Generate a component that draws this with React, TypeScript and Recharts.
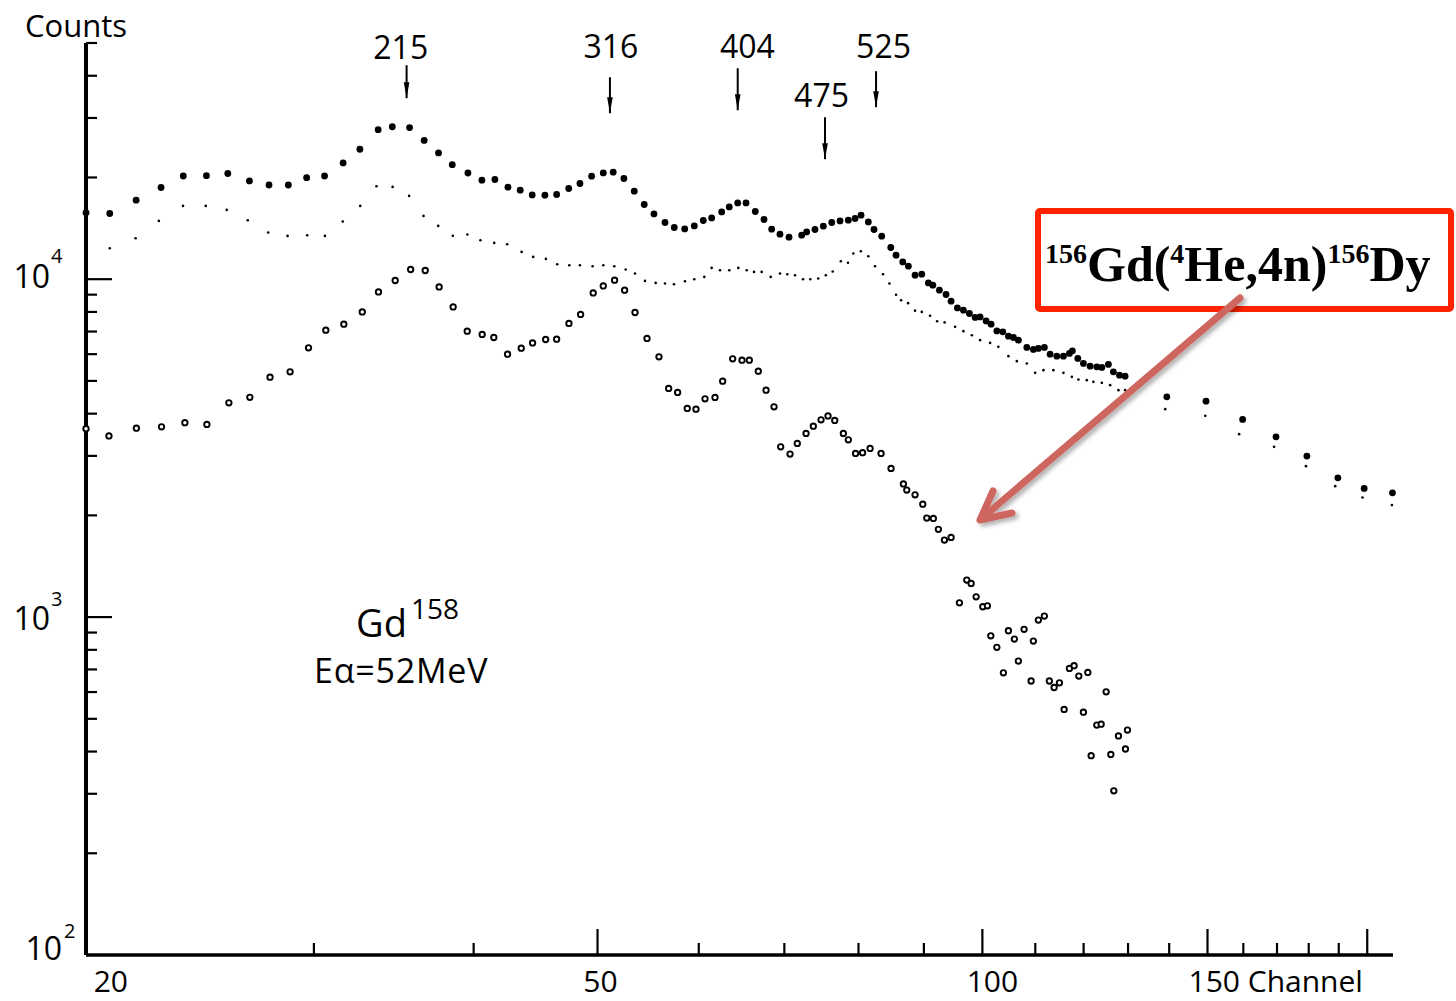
import React from 'react';
import { ScatterChart, Scatter, XAxis, YAxis, ReferenceLine, ReferenceDot } from 'recharts';

// ---------- data (channel, counts) ----------
const upperChannels = [
  19.9, 20.77, 21.78, 22.78, 23.71, 24.72, 25.69, 26.71, 27.67, 28.65,
  29.61, 30.58, 31.62, 32.59, 33.68, 34.55, 35.64, 36.59, 37.55, 38.49,
  39.59, 40.6, 41.56, 42.55, 43.5, 44.45, 45.48, 46.45, 47.47, 48.44,
  49.47, 50.52, 51.43, 52.43, 53.42, 54.39, 55.35, 56.46, 57.41, 58.5,
  59.52, 60.49, 61.41, 62.53, 63.39, 64.36, 65.33, 66.43, 67.48, 68.42,
  69.45, 70.59, 72.22, 72.87, 73.97, 75.09, 76.24, 77.38, 78.55, 79.51,
  80.37, 81.43, 82.27,
  83.42, 84.79, 85.6, 86.64, 87.52, 88.58, 89.66, 90.73, 91.46, 92.55,
  93.67, 94.52, 95.6, 96.64, 97.69, 98.7, 99.59, 100.67, 101.58, 102.64,
  103.75, 104.8, 105.75, 106.7, 108.33, 109.62, 110.61, 111.81, 112.97, 114.35,
  115.72, 116.97, 117.6, 118.75, 119.96, 121.42, 122.88, 124.0, 125.48, 126.61,
  128.0, 129.31,
  139.4, 149.6, 159.8, 169.7, 179.4, 189.7, 198.9, 209.3,
];
const upperCounts = [
  15731, 15646, 17129, 18677, 20199, 20240, 20546, 19535, 18996, 18996,
  19966, 20199, 22085, 24244, 27691, 28261, 28107, 25743, 23641, 21815,
  20616, 19631, 19725, 18716, 18338, 17760, 17723, 17808, 18550, 19194,
  20170, 20630, 20728, 19858, 18213, 16635, 15603, 14715, 14222, 14087,
  14378, 14917, 15183, 15817, 16364, 16817, 16817, 15860, 15018, 14058,
  13588, 13312, 13496, 13802, 14030, 14349, 14715, 14877, 14947, 15121,
  15465, 14776, 14030,
  13403, 12411, 11776, 11251, 10926, 10276, 10347, 9751, 9600, 9278,
  9010, 8608, 8224, 8096, 7916, 7704, 7735, 7527, 7359, 7031,
  6984, 6782, 6722, 6600, 6280, 6195, 6237, 6280, 6000, 5918,
  5918, 6028, 6136, 5826, 5631, 5529, 5502, 5480, 5593, 5318,
  5200, 5165,
  4485, 4355, 3846, 3415, 2995, 2584, 2403, 2332,
];

const middleChannels = [
  19.9, 20.77, 21.76, 22.69, 23.7, 24.69, 25.64, 26.63, 27.63, 28.61,
  29.64, 30.6, 31.6, 32.61, 33.58, 34.57, 35.61, 36.55, 37.53, 38.53,
  39.55, 40.49, 41.51, 42.49, 43.61, 44.53, 45.56, 46.5, 47.52, 48.44,
  49.56, 50.52, 51.53, 52.6, 53.49, 54.46, 55.52, 56.46, 57.38, 58.53,
  59.52, 60.6, 61.41, 62.34, 63.39, 64.43, 65.41, 66.28, 67.2, 68.3,
  69.45, 70.37, 71.36, 72.4, 73.35, 74.41, 75.43, 76.37, 77.5, 78.5,
  79.26, 80.34, 81.43, 82.42, 83.62, 84.58, 85.6, 86.38, 87.48, 88.58,
  89.66, 91.01, 92.17, 93.42, 95.2, 96.64, 98.11, 99.59, 101.4, 102.92,
  104.8, 106.39, 108.33, 109.97, 111.62, 113.64, 115.72, 117.48, 118.88, 120.69,
  122.13, 124.0, 125.87, 127.77, 129.31,
  139.0, 149.4, 158.8, 169.1, 179.1, 188.8, 198.3, 209.1,
];
const middleCounts = [
  12352, 12352, 13222, 14877, 16477, 16477, 16034, 14947, 13745, 13431,
  13496, 13431, 14816, 16477, 18843, 18753, 17638, 15391, 14378, 13449,
  13560, 13043, 12806, 12692, 12044, 11640, 11483, 11076, 11001, 11001,
  10926, 11001, 10926, 10683, 10396, 9885, 9751, 9711, 9665, 9865,
  10000, 10158, 10800, 10632, 10632, 10800, 10632, 10510, 10510, 10158,
  10396, 10347, 10276, 10000, 10000, 10048, 10276, 10539, 11305, 11190,
  11913, 12101, 11696, 10926, 10347, 9711, 8998, 8667, 8492, 8069,
  8003, 7798, 7511, 7450, 7226, 7017, 6828, 6600, 6479, 6305,
  5918, 5720, 5631, 5282, 5380, 5380, 5282, 5140, 5050, 5026,
  4968, 4934, 4857, 4694, 4694,
  4125, 3941, 3479, 3190, 2797, 2441, 2260, 2145,
];

const lowerChannels = [
  19.9, 20.74, 21.79, 22.8, 23.78, 24.74, 25.74, 26.73, 27.72, 28.74,
  29.71, 30.65, 31.66, 32.73, 33.7, 34.73, 35.71, 36.66, 37.59, 38.55,
  39.54, 40.62, 41.48, 42.52, 43.58, 44.48, 45.54, 46.45, 47.49, 48.5,
  49.61, 50.52, 51.56, 52.5, 53.49, 54.66, 55.85, 56.83, 57.76, 58.77,
  59.7, 60.68, 61.78, 62.64, 63.78, 64.86, 65.72, 66.79, 67.73, 68.71,
  69.54, 70.72, 71.65, 72.79, 73.75, 74.78, 75.73, 76.65, 77.85, 78.55,
  79.58, 80.59, 81.69, 83.32, 84.83, 86.74, 87.27, 88.58, 89.82, 90.47,
  91.55, 92.38, 93.39, 94.52, 95.95, 97.23, 97.99, 98.88, 100.07, 100.91,
  101.53, 102.64, 103.86, 104.8, 105.94, 106.7, 107.8, 109.17, 109.62, 110.61,
  111.81, 112.82, 113.79, 114.89, 115.86, 116.97, 117.96, 118.97, 119.96, 120.91,
  121.64, 122.88, 123.85, 124.97, 126.03, 126.71, 127.77, 129.39, 129.86,
];
const lowerCounts = [
  3612, 3436, 3624, 3656, 3762, 3716, 4305, 4470, 5130, 5318,
  6263, 7065, 7359, 8003, 9171, 9912, 10683, 10611, 9489, 8280,
  7017, 6861, 6722, 6000, 6250, 6479, 6631, 6645, 7395, 7863,
  9109, 9554, 9932, 9278, 7970, 6677, 5890, 4749, 4622, 4144,
  4125, 4424, 4467, 4991, 5810, 5759, 5759, 5343, 4694, 4190,
  3190, 3036, 3265, 3495, 3674, 3835, 3938, 3819, 3495, 3346,
  3050, 3067, 3156, 3050, 2754, 2478, 2376, 2301, 2159, 1963,
  1959, 1818, 1690, 1721, 1102, 1287, 1258, 1148, 1073, 1080,
  880, 814, 684, 911, 861, 741, 920, 647, 849, 980,
  1007, 647, 619, 639, 533, 705, 718, 669, 523, 686,
  389, 479, 482, 601, 392, 306, 445, 407, 463,
];

// peak markers (keV labels) in data units
const peakLabels = ['215', '316', '404', '475', '525'];
const peakChannels = [35.45, 51.13, 64.36, 75.32, 82.57];
const peakArrowTail = [42970, 39590, 42100, 30150, 41250];
const peakArrowTip = [34320, 30980, 31620, 22650, 32280];
const peakLabelChannels = [35.08, 51.22, 65.5, 74.85, 83.69];
const peakLabelCounts = [44760, 45070, 45070, 32280, 45070];

// axes
const xTickValues = [20, 30, 40, 50, 60, 70, 80, 90, 100, 110, 120, 130, 140, 150, 160, 170, 180, 190, 200];
const xMajorTicks = [50, 100, 150, 200];
const xLabelValues = [20, 50, 100, 150];
const xLabelTexts = ['20', '50', '100', '150 Channel'];
const yTickValues = [
  100, 200, 300, 400, 500, 600, 700, 800, 900,
  1000, 2000, 3000, 4000, 5000, 6000, 7000, 8000, 9000,
  10000, 20000, 30000, 40000, 50000,
];
const yLabelValues = [100, 1000, 10000];
const yLabelExponents = ['2', '3', '4'];

const toPoints = (xs: number[], ys: number[]) => xs.map((x, i) => ({ x, y: ys[i] }));
const upperData = toPoints(upperChannels, upperCounts);
const middleData = toPoints(middleChannels, middleCounts);
const lowerData = toPoints(lowerChannels, lowerCounts);

const FONT = "'Open Sans', 'DejaVu Sans', sans-serif";

// label placement offsets (style)
const xLabelStyle: Record<number, { dx: number; anchor: 'middle' | 'start' }> = {
  20: { dx: 22, anchor: 'middle' },
  50: { dx: 3, anchor: 'middle' },
  100: { dx: 10, anchor: 'middle' },
  150: { dx: -19, anchor: 'start' },
};
const yLabelStyle: Record<number, { dx: number; dy: number; sdx: number; sdy: number }> = {
  100: { dx: -24, dy: 5, sdx: -22, sdy: -17 },
  1000: { dx: -36, dy: 13, sdx: -35, sdy: -11 },
  10000: { dx: -36, dy: 9, sdx: -35, sdy: -16 },
};

const XTick = (props: any) => {
  const { x, y, payload } = props;
  const v = payload.value;
  const len = v === 20 ? 0 : xMajorTicks.includes(v) ? 26 : 12;
  const li = xLabelValues.indexOf(v);
  const st = xLabelStyle[v];
  return (
    <g>
      {len > 0 && <line x1={x} x2={x} y1={y} y2={y - len} stroke="#000" strokeWidth={2.2} />}
      {li >= 0 && (
        <text x={x + st.dx} y={y + 37} textAnchor={st.anchor} fontFamily={FONT} fontSize={30} fill="#000">
          {xLabelTexts[li]}
        </text>
      )}
    </g>
  );
};

const YTick = (props: any) => {
  const { x, y, payload } = props;
  const v = payload.value;
  const major = v === 1000 || v === 10000;
  const len = v === 100 ? 0 : major ? 26 : 11;
  const li = yLabelValues.indexOf(v);
  const st = yLabelStyle[v];
  return (
    <g>
      {len > 0 && <line x1={x} x2={x + len} y1={y} y2={y} stroke="#000" strokeWidth={2.2} />}
      {li >= 0 && (
        <g fontFamily={FONT} fill="#000">
          <text x={x + st.dx} y={y + st.dy} textAnchor="end" fontSize={32}>10</text>
          <text x={x + st.sdx} y={y + st.sdy} textAnchor="start" fontSize={20}>{yLabelExponents[li]}</text>
        </g>
      )}
    </g>
  );
};

const FilledDot = (p: any) => <circle cx={p.cx} cy={p.cy} r={3.4} fill="#000" />;
const TinyDot = (p: any) => <circle cx={p.cx} cy={p.cy} r={1.3} fill="#000" />;
const OpenDot = (p: any) => <circle cx={p.cx} cy={p.cy} r={2.7} fill="#fff" stroke="#000" strokeWidth={1.9} />;

const ArrowHead = (p: any) => (
  <polygon points={`${p.cx - 2.8},${p.cy - 16} ${p.cx + 2.8},${p.cy - 16} ${p.cx},${p.cy}`} fill="#000" />
);

export default function App() {
  return (
    <div style={{ position: 'absolute', left: 0, top: 0, width: 1456, height: 1001, background: '#fff' }}>
      <ScatterChart width={1456} height={1001} margin={{ top: 43, right: 63, bottom: 0, left: 0 }}>
        <XAxis
          type="number"
          dataKey="x"
          scale="log"
          domain={[19.9, 209.5]}
          ticks={xTickValues}
          interval={0}
          tickSize={0}
          tickMargin={0}
          tickLine={false}
          tick={(p: any) => <XTick {...p} />}
          axisLine={{ stroke: '#000', strokeWidth: 3.5 }}
          height={46}
        />
        <YAxis
          type="number"
          dataKey="y"
          scale="log"
          domain={[100, 50000]}
          ticks={yTickValues}
          interval={0}
          tickSize={0}
          tickMargin={0}
          tickLine={false}
          tick={(p: any) => <YTick {...p} />}
          axisLine={{ stroke: '#000', strokeWidth: 4 }}
          width={86}
        />
        <Scatter data={middleData} shape={TinyDot} isAnimationActive={false} />
        <Scatter data={upperData} shape={FilledDot} isAnimationActive={false} />
        <Scatter data={lowerData} shape={OpenDot} isAnimationActive={false} />
        {peakChannels.map((c, i) => (
          <ReferenceLine
            key={'pl' + i}
            segment={[{ x: c, y: peakArrowTail[i] }, { x: c, y: peakArrowTip[i] }]}
            stroke="#000"
            strokeWidth={2}
            ifOverflow="visible"
          />
        ))}
        {peakChannels.map((c, i) => (
          <ReferenceDot key={'ph' + i} x={c} y={peakArrowTip[i]} r={1} ifOverflow="visible" shape={ArrowHead} />
        ))}
        {peakLabelChannels.map((c, i) => (
          <ReferenceDot
            key={'pt' + i}
            x={c}
            y={peakLabelCounts[i]}
            r={1}
            ifOverflow="visible"
            shape={(p: any) => (
              <text x={p.cx} y={p.cy} textAnchor="middle" fontFamily={FONT} fontSize={32} fill="#000">
                {peakLabels[i]}
              </text>
            )}
          />
        ))}
      </ScatterChart>
      <svg width={1456} height={1001} style={{ position: 'absolute', left: 0, top: 0, pointerEvents: 'none' }}>
        <defs>
          <filter id="arrowShadow" x="-20%" y="-20%" width="140%" height="140%">
            <feDropShadow dx="3" dy="3" stdDeviation="2" floodColor="#000" floodOpacity="0.3" />
          </filter>
        </defs>
        <text x={25} y={37} fontFamily={FONT} fontSize={31} fill="#000">Counts</text>
        <text x={356} y={637} fontFamily={FONT} fontSize={38} fill="#000">Gd</text>
        <text x={411} y={619} fontFamily={FONT} fontSize={28} fill="#000">158</text>
        <text x={314} y={683} fontFamily={FONT} fontSize={34} letterSpacing={0.8} fill="#000">Eα=52MeV</text>
        <rect x={1038} y={211} width={413} height={98} rx={2} fill="none" stroke="#ff2200" strokeWidth={6} />
        <text x={1045} y={281} fontFamily="'Liberation Serif', 'Times New Roman', serif" fontWeight="bold" fontSize={50} fill="#000">
          <tspan fontSize={28} dy={-18}>156</tspan>
          <tspan dy={18}>Gd(</tspan>
          <tspan fontSize={28} dy={-18}>4</tspan>
          <tspan dy={18}>He,4n)</tspan>
          <tspan fontSize={28} dy={-18}>156</tspan>
          <tspan dy={18}>Dy</tspan>
        </text>
        <g filter="url(#arrowShadow)" stroke="#cd665f" strokeWidth={7} strokeLinecap="round" strokeLinejoin="round" fill="none">
          <line x1={1240} y1={298} x2={981} y2={519} />
          <polyline points="993,491 980,520 1012,513" />
        </g>
      </svg>
    </div>
  );
}
